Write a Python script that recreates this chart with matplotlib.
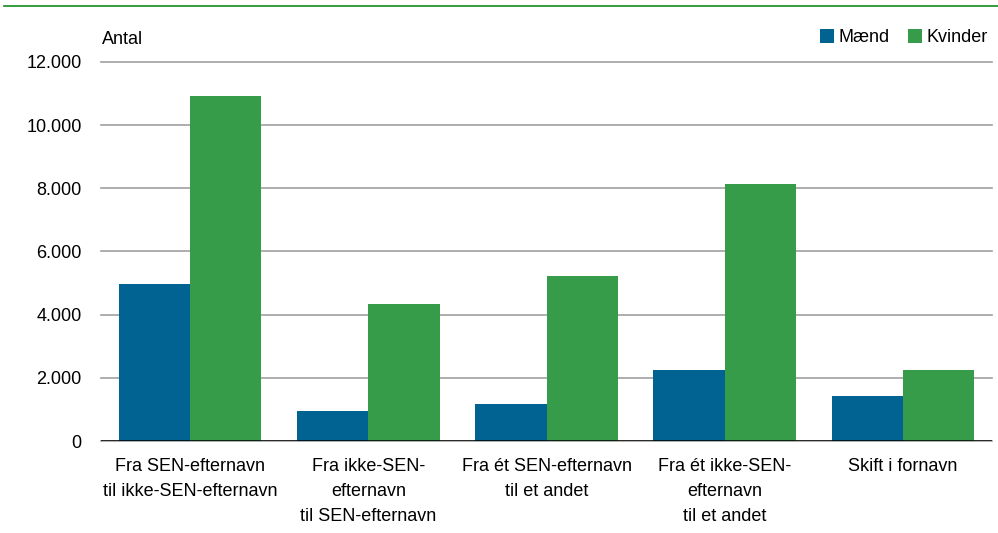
import matplotlib
matplotlib.use("Agg")
import matplotlib.pyplot as plt
from matplotlib.lines import Line2D
import numpy as np

categories = ["Fra SEN-efternavn\ntil ikke-SEN-efternavn",
              "Fra ikke-SEN-\nefternavn\ntil SEN-efternavn",
              "Fra ét SEN-efternavn\ntil et andet",
              "Fra ét ikke-SEN-\nefternavn\ntil et andet",
              "Skift i fornavn"]
maend = [4970, 960, 1160, 2250, 1430]
kvinder = [10930, 4350, 5220, 8140, 2250]
yticks = [0, 2000, 4000, 6000, 8000, 10000, 12000]
ytick_labels = ["0", "2.000", "4.000", "6.000", "8.000", "10.000", "12.000"]

C_M = "#006392"
C_K = "#379c4a"

plt.rcParams['font.family'] = ['Liberation Sans', 'DejaVu Sans']
FS = 13

fig = plt.figure(figsize=(9.98, 5.33), dpi=100)
ax = fig.add_axes([0.1012, 0.1726, 0.994 - 0.1012, 0.8837 - 0.1726])

x = np.arange(len(categories))
w = 0.4
ax.bar(x - w / 2, maend, w, color=C_M, label="Mænd", zorder=3)
ax.bar(x + w / 2, kvinder, w, color=C_K, label="Kvinder", zorder=3)

ax.set_xlim(-0.5, len(categories) - 0.5)
ax.set_ylim(0, 12000)
ax.set_yticks(yticks)
ax.set_yticklabels(ytick_labels, fontsize=FS)
ax.set_xticks(x)
ax.set_xticklabels(categories, fontsize=FS, linespacing=1.6)
ax.tick_params(axis='y', length=0, pad=14)
ax.tick_params(axis='x', length=0, pad=12.5)
for s in ax.spines.values():
    s.set_visible(False)
ax.yaxis.grid(True, color="#a0a0a0", linewidth=1.2, zorder=1)
for gl in ax.get_ygridlines():
    gl.set_clip_on(False)
ax.set_axisbelow(True)
ax.axhline(0, color="black", linewidth=1.8, zorder=4)

fig.text(0.102, 0.925, "Antal", fontsize=FS, ha='left', va='center')

leg = ax.legend(loc='upper right', bbox_to_anchor=(0.99, 0.945), bbox_transform=fig.transFigure,
                ncol=2, frameon=False, fontsize=FS, handlelength=0.8, handleheight=0.8,
                handletextpad=0.25, columnspacing=1.0, borderpad=0, borderaxespad=0)

fig.add_artist(Line2D([0.004, 1.0], [0.989, 0.989], color="#138a1a", linewidth=1.2,
                      transform=fig.transFigure))

fig.savefig("out.png", dpi=100)
